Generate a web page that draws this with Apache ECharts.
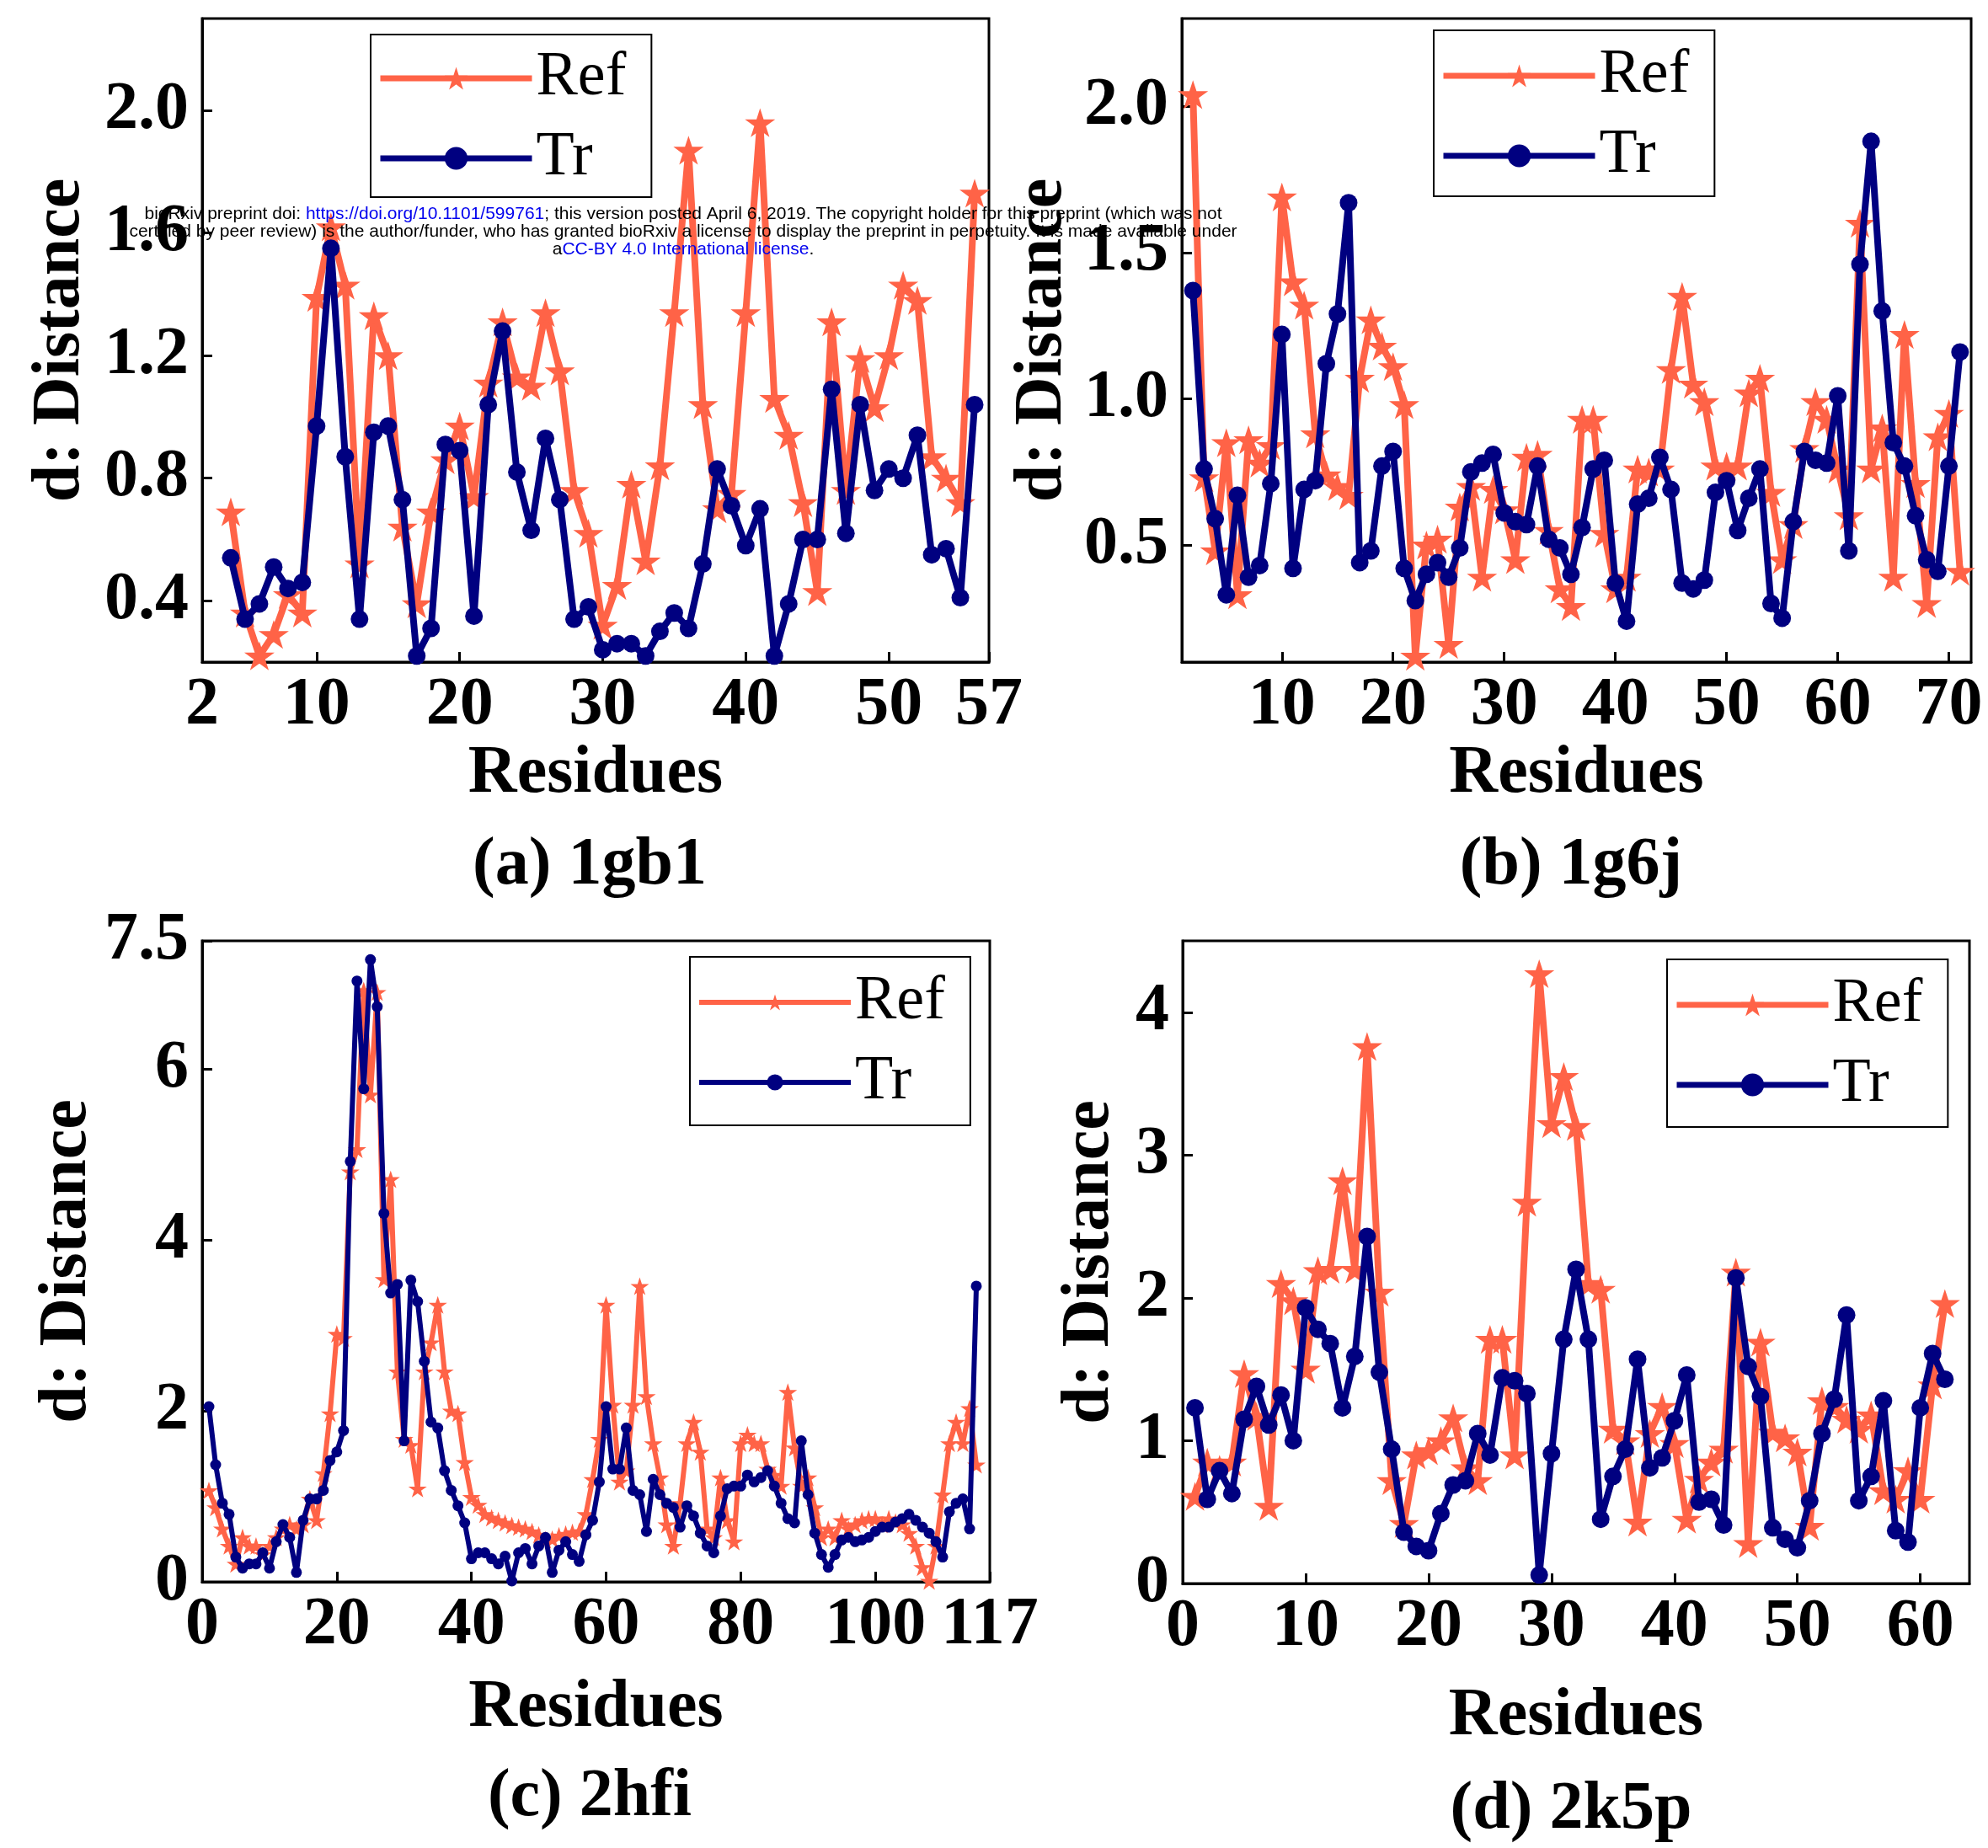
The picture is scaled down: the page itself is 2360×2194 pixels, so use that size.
<!DOCTYPE html>
<html><head><meta charset="utf-8">
<script src="https://cdn.jsdelivr.net/npm/echarts@6/dist/echarts.min.js"></script>
<style>html,body{margin:0;padding:0;background:#fff}#c{width:2360px;height:2194px}</style>
</head><body><div id="c"></div>
<script>
// ---------- data ----------
// (a) 1gb1 : residues 4..56
const resStartA = 4;
const refA = [0.69,0.36,0.22,0.29,0.42,0.36,1.39,1.62,1.43,0.52,1.33,1.20,0.64,0.39,0.69,0.86,0.97,0.74,1.11,1.31,1.13,1.10,1.34,1.15,0.76,0.62,0.32,0.45,0.78,0.53,0.84,1.34,1.87,1.04,0.70,0.75,1.34,1.96,1.06,0.94,0.72,0.43,1.31,0.76,1.19,1.03,1.20,1.43,1.38,0.87,0.80,0.72,1.73];
const trA  = [0.54,0.34,0.39,0.51,0.44,0.46,0.97,1.55,0.87,0.34,0.95,0.97,0.73,0.22,0.31,0.91,0.89,0.35,1.04,1.28,0.82,0.63,0.93,0.73,0.34,0.38,0.24,0.26,0.26,0.22,0.30,0.36,0.31,0.52,0.83,0.71,0.58,0.70,0.22,0.39,0.60,0.60,1.09,0.62,1.04,0.76,0.83,0.80,0.94,0.55,0.57,0.41,1.04];
const xTicksA = [2,10,20,30,40,50,57];
const yTicksA = [0.4,0.8,1.2,1.6,2.0];

// (b) 1g6j : residues 2..71
const resStartB = 2;
const refB = [2.04,0.73,0.48,0.85,0.33,0.86,0.78,0.84,1.69,1.40,1.32,0.88,0.74,0.70,0.67,1.07,1.27,1.18,1.11,0.98,0.12,0.50,0.52,0.16,0.63,0.70,0.39,0.69,0.62,0.45,0.80,0.81,0.55,0.35,0.29,0.93,0.93,0.54,0.35,0.39,0.76,0.75,0.76,1.10,1.35,1.05,0.99,0.77,0.77,0.77,1.02,1.07,0.68,0.45,0.57,0.83,0.99,0.93,0.76,0.60,1.60,0.76,0.90,0.39,1.22,0.71,0.30,0.87,0.95,0.41];
const trB  = [1.37,0.76,0.59,0.33,0.67,0.39,0.43,0.71,1.22,0.42,0.69,0.72,1.12,1.29,1.67,0.44,0.48,0.77,0.82,0.42,0.31,0.40,0.44,0.39,0.49,0.75,0.78,0.81,0.61,0.58,0.57,0.77,0.52,0.49,0.40,0.56,0.76,0.79,0.37,0.24,0.64,0.66,0.80,0.69,0.37,0.35,0.38,0.68,0.72,0.55,0.66,0.76,0.30,0.25,0.58,0.82,0.79,0.78,1.01,0.48,1.46,1.88,1.30,0.85,0.77,0.60,0.45,0.41,0.77,1.16];
const xTicksB = [10,20,30,40,50,60,70];
const yTicksB = [0.5,1.0,1.5,2.0];

// (c) 2hfi : residues 1..115
const resStartC = 1;
const refC = [1.07,0.87,0.62,0.42,0.21,0.52,0.42,0.42,0.32,0.42,0.52,0.62,0.67,0.62,0.67,0.97,0.72,1.27,1.97,2.90,2.85,4.80,5.06,6.92,5.70,6.90,3.54,4.71,2.46,1.67,1.60,1.09,2.46,2.80,3.24,2.46,2.00,1.97,1.40,0.99,0.90,0.79,0.75,0.72,0.69,0.66,0.64,0.62,0.59,0.55,0.49,0.50,0.54,0.56,0.58,0.59,0.79,1.20,1.67,3.24,2.07,1.17,1.30,2.07,3.46,2.17,1.62,1.22,0.67,0.42,0.92,1.62,1.87,1.52,0.62,0.52,1.22,0.72,0.47,1.62,1.72,1.62,1.62,1.32,1.25,1.12,2.22,1.57,1.12,1.22,0.87,0.52,0.62,0.52,0.72,0.62,0.67,0.72,0.74,0.74,0.67,0.74,0.70,0.67,0.57,0.42,0.17,0.01,0.42,1.02,1.62,1.87,1.62,2.03,1.37];
const trC  = [2.05,1.37,0.92,0.79,0.29,0.16,0.21,0.21,0.34,0.16,0.47,0.67,0.52,0.11,0.72,0.97,0.97,1.07,1.42,1.52,1.77,4.92,7.03,5.77,7.28,6.73,4.31,3.38,3.48,1.65,3.53,3.28,2.58,1.87,1.80,1.30,1.07,0.89,0.69,0.27,0.34,0.34,0.27,0.21,0.30,0.01,0.34,0.39,0.21,0.42,0.52,0.11,0.37,0.47,0.32,0.24,0.55,0.72,1.17,2.05,1.32,1.32,1.80,1.07,1.02,0.59,1.20,1.02,0.92,0.87,0.64,0.89,0.77,0.57,0.42,0.34,0.77,1.09,1.12,1.12,1.25,1.17,1.22,1.30,1.12,0.92,0.74,0.69,1.65,1.02,0.57,0.32,0.17,0.32,0.49,0.52,0.47,0.49,0.52,0.59,0.64,0.64,0.70,0.74,0.79,0.72,0.64,0.57,0.47,0.29,0.82,0.92,0.97,0.62,3.46];
const xTicksC = [0,20,40,60,80,100,117];
const yTicksC = [0,2,4,6,7.5];

// (d) 2k5p : residues 1..62
const resStartD = 1;
const refD = [0.61,0.85,0.80,0.85,1.47,1.17,0.54,2.10,1.98,1.50,2.19,2.20,2.82,2.20,3.76,2.04,0.72,0.42,0.90,0.93,1.00,1.16,0.81,0.72,1.71,1.71,0.90,2.67,4.27,3.22,3.55,3.20,2.10,2.06,1.08,1.00,0.43,1.05,1.24,0.98,0.45,0.73,0.85,0.94,2.18,0.28,1.69,1.06,1.02,0.92,0.40,1.28,1.24,1.15,1.08,1.18,0.65,0.59,0.79,0.59,1.39,1.96];
const trD  = [1.23,0.59,0.79,0.63,1.15,1.38,1.11,1.32,1.00,1.93,1.78,1.68,1.23,1.59,2.43,1.48,0.94,0.36,0.26,0.23,0.49,0.69,0.72,1.05,0.90,1.44,1.42,1.33,0.06,0.91,1.71,2.20,1.71,0.45,0.75,0.94,1.57,0.81,0.88,1.14,1.46,0.57,0.59,0.41,2.14,1.52,1.31,0.39,0.31,0.25,0.58,1.05,1.29,1.88,0.58,0.75,1.28,0.37,0.29,1.23,1.61,1.43];
const xTicksD = [0,10,20,30,40,50,60];
const yTicksD = [0,1,2,3,4];

const titles = ['(a) 1gb1','(b) 1g6j','(c) 2hfi','(d) 2k5p'];

// ---------- styling ----------
const FONT = 'Liberation Serif';
const ORANGE = '#FF6347';
const NAVY = '#000080';
const STAR = 'path://M50,0 L61.2,34.5 L97.6,34.5 L68.2,55.9 L79.4,90.5 L50,69.1 L20.6,90.5 L31.8,55.9 L2.4,34.5 L38.8,34.5 Z';

function pairs(start, vals){ return vals.map((v,i)=>[start+i, v]); }

const panels = [
  {grid:{left:240,top:22,width:934,height:764}, xMin:2,xMax:57,xTicks:xTicksA, yMin:0.2,yMax:2.3,yTicks:yTicksA, fmt:v=>v.toFixed(1),
   xGap:90,yGap:128, ref:pairs(resStartA,refA), tr:pairs(resStartA,trA), t:[700,986], lg:[440,41,12,6], lw:8, ss:36, cs:21, lgH:34, llw:7},
  {grid:{left:1403,top:22,width:937,height:764}, xMin:1,xMax:72,xTicks:xTicksB, yMin:0.1,yMax:2.3,yTicks:yTicksB, fmt:v=>v.toFixed(1),
   xGap:90,yGap:125, ref:pairs(resStartB,refB), tr:pairs(resStartB,trB), t:[1865,986], lg:[1702,36,14,8], lw:8, ss:36, cs:21, lgH:34, llw:7},
  {grid:{left:240,top:1117,width:935,height:761}, xMin:0,xMax:117,xTicks:xTicksC, yMin:0,yMax:7.5,yTicks:yTicksC, fmt:v=>String(v),
   xGap:110,yGap:69, ref:pairs(resStartC,refC), tr:pairs(resStartC,trC), t:[700,2092], lg:[819,1136,14,11], lw:6, ss:22, cs:13, lgH:24, llw:6},
  {grid:{left:1404,top:1117,width:934,height:763}, xMin:0,xMax:64,xTicks:xTicksD, yMin:0,yMax:4.5,yTicks:yTicksD, fmt:v=>String(v),
   xGap:118,yGap:70, ref:pairs(resStartD,refD), tr:pairs(resStartD,trD), t:[1865,2107], lg:[1979,1139,14,10], lw:8, ss:36, cs:21, lgH:34, llw:7}
];

const axisText = {fontFamily:FONT, fontWeight:'bold', fontSize:80, color:'#000'};

const option = {
  animation:false,
  backgroundColor:'#fff',
  grid: panels.map(p=>Object.assign({show:true, borderColor:'#000', borderWidth:3, containLabel:false}, p.grid)),
  xAxis: panels.map((p,i)=>({
    type:'value', gridIndex:i, min:p.xMin, max:p.xMax,
    name:'Residues', nameLocation:'middle', nameGap:p.xGap, nameTextStyle:axisText,
    axisLine:{onZero:false, lineStyle:{color:'#000', width:3}},
    axisTick:{inside:true, length:12, customValues:p.xTicks, lineStyle:{color:'#000', width:3}},
    axisLabel:Object.assign({customValues:p.xTicks, margin:12, showMinLabel:true, showMaxLabel:true}, axisText),
    splitLine:{show:false}
  })),
  yAxis: panels.map((p,i)=>({
    type:'value', gridIndex:i, min:p.yMin, max:p.yMax,
    name:'d: Distance', nameLocation:'middle', nameGap:p.yGap, nameRotate:90, nameTextStyle:axisText,
    axisLine:{onZero:false, lineStyle:{color:'#000', width:3}},
    axisTick:{inside:true, length:12, customValues:p.yTicks, lineStyle:{color:'#000', width:3}},
    axisLabel:Object.assign({customValues:p.yTicks, margin:16, formatter:p.fmt, showMinLabel:true, showMaxLabel:true}, axisText),
    splitLine:{show:false}
  })),
  title: panels.map((p,i)=>({
    text:titles[i], left:p.t[0], top:p.t[1], textAlign:'center', padding:0,
    textStyle:{fontFamily:FONT, fontWeight:'bold', fontSize:80, color:'#000', lineHeight:84}
  })),
  legend: panels.map(p=>({
    orient:'vertical', left:p.lg[0], top:p.lg[1], data:['Ref','Tr'],
    itemWidth:180, itemHeight:p.lgH, itemGap:15,
    padding:[p.lg[2], 30, p.lg[3], 8],
    borderColor:'#000', borderWidth:2, backgroundColor:'#fff',
    selectedMode:false,
    lineStyle:{width:p.llw},
    textStyle:{fontFamily:FONT, fontSize:74, color:'#000', lineHeight:80}
  })),
  series: [],
  graphic: []
};

panels.forEach((p,i)=>{
  option.series.push({
    name:'Ref', type:'line', xAxisIndex:i, yAxisIndex:i, data:p.ref,
    symbol:STAR, symbolSize:p.ss, symbolKeepAspect:true, showAllSymbol:true,
    lineStyle:{color:ORANGE, width:p.lw}, itemStyle:{color:ORANGE}, z:2
  });
  option.series.push({
    name:'Tr', type:'line', xAxisIndex:i, yAxisIndex:i, data:p.tr,
    symbol:'circle', symbolSize:p.cs, showAllSymbol:true,
    lineStyle:{color:NAVY, width:p.lw}, itemStyle:{color:NAVY}, z:3
  });
});

// bioRxiv watermark overlay
const wm = [
  '{k|bioRxiv preprint doi: }{b|https://doi.org/10.1101/599761}{k|; this version posted April 6, 2019. The copyright holder for this preprint (which was not}',
  '{k|certified by peer review) is the author/funder, who has granted bioRxiv a license to display the preprint in perpetuity. It is made available under}',
  '{k|a}{b|CC-BY 4.0 International license}{k|.}'
];
const wmY = [254, 275, 296];
wm.forEach((t,i)=>{
  option.graphic.push({
    type:'text', x:811, y:wmY[i], z:100, silent:true,
    style:{text:t, align:'center', verticalAlign:'middle',
      font:'21px "Liberation Sans"',
      rich:{k:{fill:'#000', fontSize:21, fontFamily:'Liberation Sans'}, b:{fill:'#0000EE', fontSize:21, fontFamily:'Liberation Sans'}}}
  });
});

const chart = echarts.init(document.getElementById('c'), null, {renderer:'canvas'});
chart.setOption(option);
</script></body></html>
